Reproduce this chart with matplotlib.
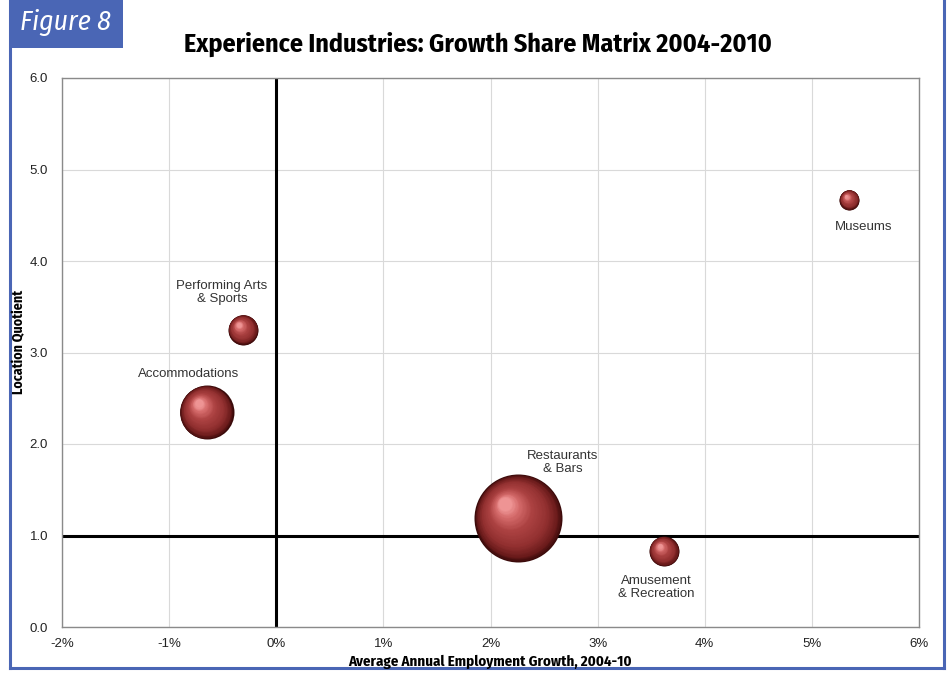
import numpy as np
import matplotlib
matplotlib.use("Agg")
from matplotlib import pyplot as plt
from matplotlib import transforms
from matplotlib.colors import to_rgb
from matplotlib.patches import Rectangle

# growth share matrix data
industries = ["Museums", "Performing Arts\n& Sports", "Accommodations",
              "Restaurants\n& Bars", "Amusement\n& Recreation"]
growth_pct = [5.35, -0.31, -0.65, 2.26, 3.62]
location_quotient = [4.67, 3.25, 2.35, 1.19, 0.83]
employment = [1000, 2250, 7300, 19400, 2250]

# label offsets from bubble centre, in pixels
label_dx = [14, -21, -18, 44, -8]
label_dy = [-27, 37, 38, 56, -36]

x_ticks = [-2, -1, 0, 1, 2, 3, 4, 5, 6]
y_ticks = [0, 1, 2, 3, 4, 5, 6]

NARROW = ["Fira Sans Condensed", "DejaVu Sans"]
REGULAR = ["Liberation Sans", "DejaVu Sans"]
BLUE = "#4a66b5"

fig = plt.figure(figsize=(9.51, 6.74), dpi=100)
ax = fig.add_axes([62 / 951, 1 - 627 / 674, (919 - 62) / 951, (627 - 78) / 674])

ax.set_xlim(-2, 6)
ax.set_ylim(0, 6)
ax.set_xticks(x_ticks)
ax.set_yticks(y_ticks)
ax.set_xticklabels(["%d%%" % t for t in x_ticks], fontfamily=REGULAR, fontsize=9.5, color="#222222")
ax.set_yticklabels(["%.1f" % t for t in y_ticks], fontfamily=REGULAR, fontsize=9.5, color="#222222")
ax.tick_params(axis="both", length=0)
ax.tick_params(axis="x", pad=8)
ax.tick_params(axis="y", pad=10)
ax.grid(True, color="#d9d9d9", linewidth=0.8)
ax.set_axisbelow(True)
for sp in ax.spines.values():
    sp.set_color("#8a8a8a")
    sp.set_linewidth(1.0)

# quadrant dividers
ax.axvline(0, color="black", linewidth=2.2, zorder=2)
ax.axhline(1, color="black", linewidth=2.2, zorder=2)


def lerp_color(stops, t):
    pos = [p for p, _ in stops]
    cols = np.array([to_rgb(c) for _, c in stops])
    return tuple(np.interp(t, pos, cols[:, i]) for i in range(3))


shade = [(0.0, "#3a0a0a"), (0.1, "#6a1b1b"), (0.3, "#923030"),
         (0.6, "#ac4242"), (0.85, "#d46a6a"), (1.0, "#ee9494")]

max_r = 44.0  # pixels for largest bubble
n_layers = 40
for x, y, emp in zip(growth_pct, location_quotient, employment):
    r = max_r * np.sqrt(emp / max(employment))
    for k in range(n_layers):
        t = k / (n_layers - 1)
        rk = r * (1 - 0.85 * t)
        dx = -0.30 * r * t
        dy = 0.32 * r * t
        off = transforms.ScaledTranslation(dx / 100, dy / 100, fig.dpi_scale_trans)
        d_pt = 2 * rk * 72 / 100
        ax.scatter([x], [y], s=d_pt ** 2, color=[lerp_color(shade, t)],
                   linewidths=0, transform=ax.transData + off, zorder=3 + k * 0.001)

for name, x, y, dx, dy in zip(industries, growth_pct, location_quotient, label_dx, label_dy):
    ax.annotate(name, (x, y), xytext=(dx, dy), textcoords="offset pixels",
                ha="center", va="center", fontsize=9.5, fontfamily=REGULAR,
                color="#333333", linespacing=1.1, zorder=5)

fig.text(478 / 951, 1 - 44 / 674, "Experience Industries: Growth Share Matrix 2004-2010",
         ha="center", va="center", fontsize=18.7, fontweight="bold", fontfamily=NARROW)
fig.text(490 / 951, 1 - 662 / 674, "Average Annual Employment Growth, 2004-10",
         ha="center", va="center", fontsize=10.7, fontweight="bold", fontfamily=NARROW)
fig.text(19 / 951, 1 - 342 / 674, "Location Quotient", rotation=90,
         ha="center", va="center", fontsize=10, fontweight="bold", fontfamily=NARROW)

# frame and figure tag
fig.add_artist(plt.Line2D([10 / 951, 10 / 951], [1, 1 - 668 / 674], transform=fig.transFigure,
                          color=BLUE, linewidth=2.2))
fig.add_artist(plt.Line2D([944 / 951, 944 / 951], [1, 1 - 668 / 674], transform=fig.transFigure,
                          color=BLUE, linewidth=2.2))
fig.add_artist(plt.Line2D([10 / 951, 944 / 951], [1 - 668 / 674, 1 - 668 / 674],
                          transform=fig.transFigure, color=BLUE, linewidth=2.2))
fig.add_artist(Rectangle((9 / 951, 1 - 48 / 674), 114 / 951, 48 / 674,
                         transform=fig.transFigure, facecolor=BLUE, edgecolor="none"))
fig.text(65 / 951, 1 - 23 / 674, "Figure 8", ha="center", va="center", color="white",
         fontsize=20, fontstyle="italic", fontweight="normal", fontfamily=NARROW)

fig.savefig("out.png", dpi=100)
